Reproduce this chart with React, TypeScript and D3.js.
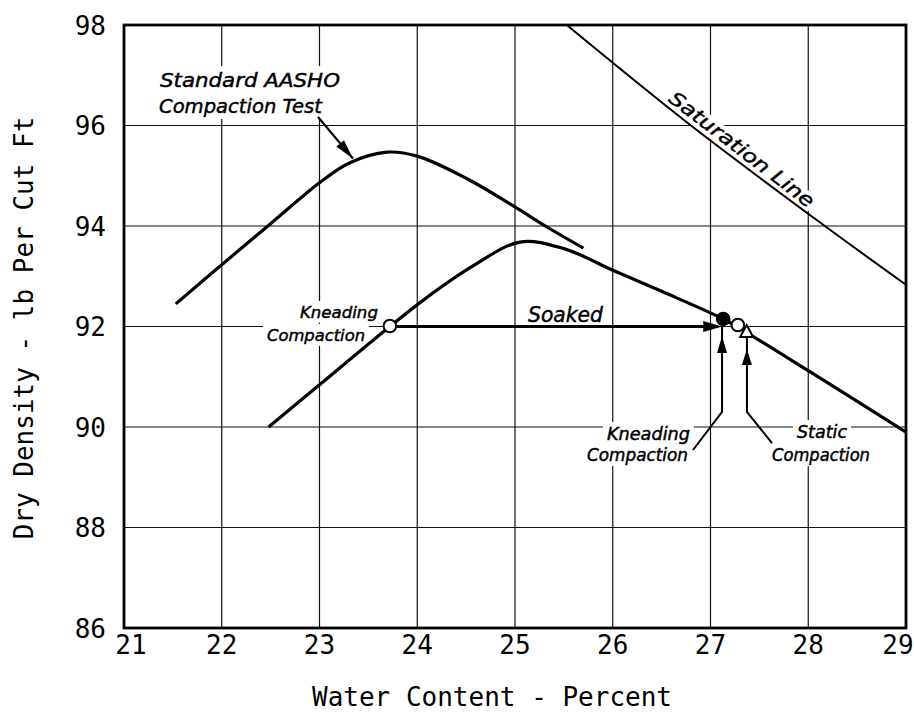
import React from "react";
import * as d3 from "d3";

// ---- data ----
const xTicks = [21, 22, 23, 24, 25, 26, 27, 28, 29];
const yTicks = [86, 88, 90, 92, 94, 96, 98];

const aashoWater = [21.53, 22, 22.49, 23, 23.3, 23.69, 24, 24.5, 25, 25.31, 25.7];
const aashoDensity = [92.45, 93.23, 94.03, 94.86, 95.25, 95.47, 95.39, 94.95, 94.38, 94, 93.56];

const soakedWater = [22.48, 23, 23.72, 24.1, 24.55, 25.05, 25.5, 26, 26.5, 27.13, 27.37, 28, 29];
const soakedDensity = [90, 90.84, 92.0, 92.58, 93.18, 93.68, 93.55, 93.12, 92.7, 92.15, 91.88, 91.12, 89.9];

const saturationWater = [25.53, 26.8, 28.17, 29];
const saturationDensity = [98, 96, 94, 92.83];

const markerWater = [23.72, 27.13, 27.28, 27.37];
const markerDensity = [92.01, 92.15, 92.03, 91.89];
const markerKind = ["open", "filled", "open", "triangle"];

const soakArrowWater = [23.72, 27.12];
const soakArrowDensity = [92.0, 92.0];

// ---- annotation layout (data units) ----
const annoText = ["Standard AASHO", "Compaction Test", "Soaked", "Kneading", "Compaction", "Kneading", "Compaction", "Static", "Compaction"];
const annoX = [21.368, 21.358, 25.133, 22.8, 22.463, 25.941, 25.737, 27.885, 27.629];
const annoY = [96.766, 96.249, 92.09, 92.17, 91.71, 89.74, 89.323, 89.781, 89.323];
const annoSize = [20, 20, 21, 16, 16, 17, 17, 17, 17];
const annoLen = [180, 163, 75, 78, 98, 83, 101, 50, 98];

const W = 914;
const H = 723;
const annoFont = "'DejaVu Sans', sans-serif";
const axisFont = "'DejaVu Sans Mono', monospace";

function arrowHead(tx: number, ty: number, fx: number, fy: number, len: number, hw: number) {
  const dx = tx - fx;
  const dy = ty - fy;
  const d = Math.hypot(dx, dy) || 1;
  const ux = dx / d, uy = dy / d;
  const bx = tx - ux * len, by = ty - uy * len;
  const px = -uy * hw, py = ux * hw;
  return `M${tx},${ty}L${bx + px},${by + py}L${bx - px},${by - py}Z`;
}

export default function App() {
  const x = d3.scaleLinear().domain([21, 29]).range([124, 906]);
  const y = d3.scaleLinear().domain([86, 98]).range([628, 25]);

  const curve = (ws: number[], ds: number[], c: d3.CurveFactory) =>
    d3.line<number>().x((_, i) => x(ws[i])).y((_, i) => y(ds[i])).curve(c)(ws) || "";

  const aashoPath = curve(aashoWater, aashoDensity, d3.curveCatmullRom.alpha(0.5));
  const soakedPath = curve(soakedWater, soakedDensity, d3.curveCatmullRom.alpha(0.5));
  const satPath = curve(saturationWater, saturationDensity, d3.curveCatmullRom.alpha(0.5));

  const satAngle =
    (Math.atan2(
      y(saturationDensity[saturationDensity.length - 1]) - y(saturationDensity[0]),
      x(saturationWater[saturationWater.length - 1]) - x(saturationWater[0])
    ) * 180) / Math.PI;
  const satLabelX = x(27.28);
  const satLabelY = y(95.42);

  // leaders
  const aFrom = [x(22.985), y(96.17)];
  const aTip = [x(23.343), y(95.34)];
  const kLeader = [[26.821, 89.542], [27.118, 90.3], [27.118, 92.03]].map(p => [x(p[0]), y(p[1])]);
  const sLeader = [[27.629, 89.68], [27.373, 90.3], [27.373, 91.77]].map(p => [x(p[0]), y(p[1])]);
  const soakFrom = [x(soakArrowWater[0]), y(soakArrowDensity[0])];
  const soakTip = [x(soakArrowWater[1]), y(soakArrowDensity[1])];

  return (
    <svg width={W} height={H} style={{ position: "absolute", left: 0, top: 0, background: "#fff" }}>
      <rect x={0} y={0} width={W} height={H} fill="#fff" />
      {/* grid */}
      <g stroke="#111" strokeWidth={1.2}>
        {xTicks.slice(1, -1).map(t => (
          <line key={"gx" + t} x1={x(t)} x2={x(t)} y1={y(86)} y2={y(98)} />
        ))}
        {yTicks.slice(1, -1).map(t => (
          <line key={"gy" + t} x1={x(21)} x2={x(29)} y1={y(t)} y2={y(t)} />
        ))}
      </g>
      {/* masks behind labels */}
      <g fill="#fff">
        {annoText.map((t, i) => (
          <rect key={"m" + i} x={x(annoX[i]) - 4} y={y(annoY[i]) - annoSize[i] - 1}
            width={annoLen[i] + 8} height={annoSize[i] * 1.3 + 1} />
        ))}
      </g>
      <text x={satLabelX} y={satLabelY} textAnchor="middle" fontFamily={annoFont} fontStyle="oblique"
        fontSize={19} textLength={177} lengthAdjust="spacingAndGlyphs"
        transform={`rotate(${satAngle},${satLabelX},${satLabelY})`}
        fill="#fff" stroke="#fff" strokeWidth={9} strokeLinejoin="round">Saturation Line</text>

      {/* curves */}
      <path d={satPath} fill="none" stroke="#000" strokeWidth={2} />
      <path d={aashoPath} fill="none" stroke="#000" strokeWidth={3.2} />
      <path d={soakedPath} fill="none" stroke="#000" strokeWidth={3.2} />

      {/* frame */}
      <rect x={x(21)} y={y(98)} width={x(29) - x(21)} height={y(86) - y(98)} fill="none" stroke="#000" strokeWidth={2.8} />

      {/* soaked arrow */}
      <line x1={soakFrom[0]} y1={soakFrom[1]} x2={soakTip[0] - 10} y2={soakTip[1]} stroke="#000" strokeWidth={3} />
      <path d={arrowHead(soakTip[0], soakTip[1], soakFrom[0], soakFrom[1], 19, 5.5)} fill="#000" />

      {/* AASHO arrow */}
      <line x1={aFrom[0]} y1={aFrom[1]} x2={aTip[0]} y2={aTip[1]} stroke="#000" strokeWidth={2.2} />
      <path d={arrowHead(aTip[0], aTip[1], aFrom[0], aFrom[1], 20, 5)} fill="#000" />

      {/* leaders */}
      <polyline points={kLeader.map(p => p.join(",")).join(" ")} fill="none" stroke="#000" strokeWidth={2} />
      <path d={arrowHead(kLeader[2][0], kLeader[2][1] + 11, kLeader[2][0], kLeader[2][1] + 40, 17, 5)} fill="#000" />
      <polyline points={sLeader.map(p => p.join(",")).join(" ")} fill="none" stroke="#000" strokeWidth={2} />
      <path d={arrowHead(sLeader[2][0], sLeader[2][1] + 11, sLeader[2][0], sLeader[2][1] + 40, 16, 5)} fill="#000" />

      {/* markers */}
      {markerWater.map((w, i) => {
        const cx = x(w), cy = y(markerDensity[i]);
        if (markerKind[i] === "triangle") {
          return <path key={"mk" + i} d={`M${cx},${cy - 7}L${cx + 6.5},${cy + 5}L${cx - 6.5},${cy + 5}Z`}
            fill="#fff" stroke="#000" strokeWidth={2} />;
        }
        return <circle key={"mk" + i} cx={cx} cy={cy} r={6.3}
          fill={markerKind[i] === "filled" ? "#000" : "#fff"} stroke="#000" strokeWidth={2} />;
      })}

      {/* annotation texts */}
      {annoText.map((t, i) => (
        <text key={"t" + i} x={x(annoX[i])} y={y(annoY[i])} fontFamily={annoFont} fontStyle="oblique"
          fontSize={annoSize[i]} textLength={annoLen[i]} lengthAdjust="spacingAndGlyphs" fill="#000"
          stroke="#000" strokeWidth={0.45}>{t}</text>
      ))}
      <text x={satLabelX} y={satLabelY} textAnchor="middle" fontFamily={annoFont} fontStyle="oblique"
        fontSize={19} textLength={177} lengthAdjust="spacingAndGlyphs"
        transform={`rotate(${satAngle},${satLabelX},${satLabelY})`} fill="#000" stroke="#000" strokeWidth={0.45}>Saturation Line</text>

      {/* tick labels */}
      {yTicks.map(t => (
        <text key={"yl" + t} x={106} y={y(t) + 9.5} textAnchor="end" fontFamily={axisFont} fontSize={26} fill="#000">{t}</text>
      ))}
      {xTicks.map(t => (
        <text key={"xl" + t} x={x(t) + (t === 21 ? 7 : t === 29 ? -8 : 0)} y={654} textAnchor="middle"
          fontFamily={axisFont} fontSize={26} fill="#000">{t}</text>
      ))}

      {/* axis titles */}
      <text x={492} y={706} textAnchor="middle" fontFamily={axisFont} fontSize={26} fill="#000">Water Content - Percent</text>
      <text transform="translate(33,328) rotate(-90)" textAnchor="middle" fontFamily={axisFont} fontSize={26} fill="#000">
        Dry Density - lb Per Cut Ft
      </text>
    </svg>
  );
}
